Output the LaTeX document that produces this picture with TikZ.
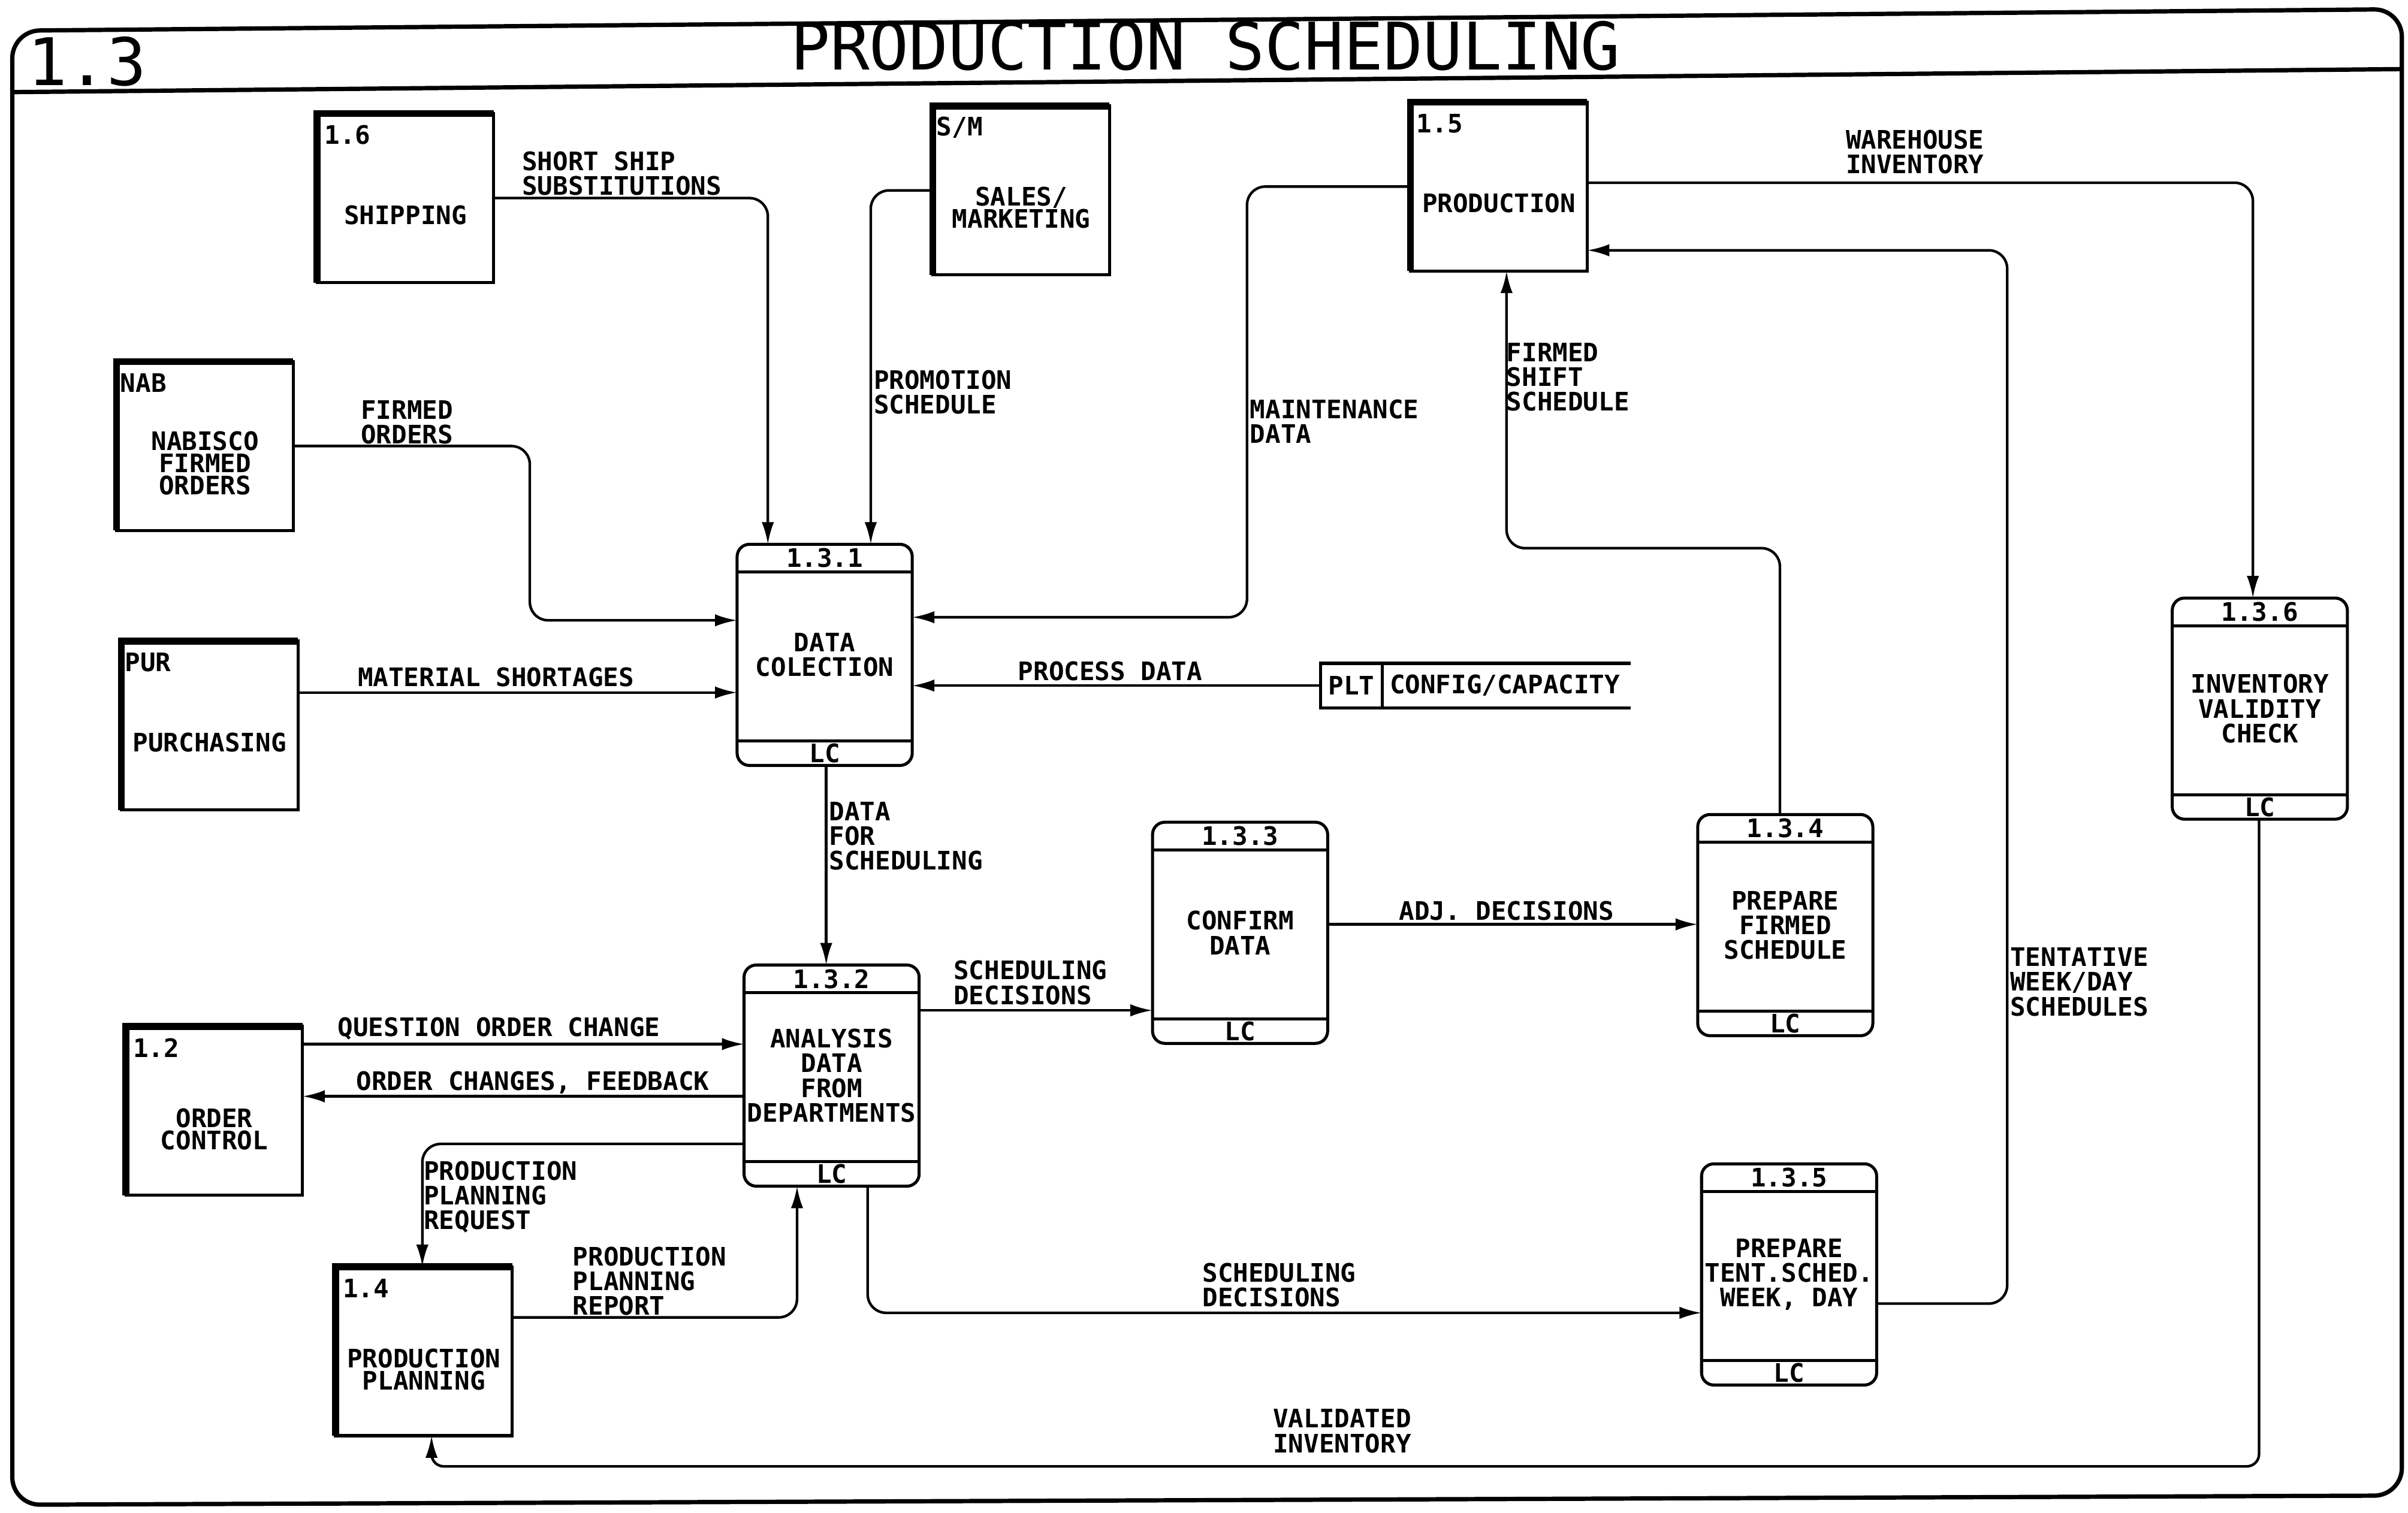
\documentclass[tikz,border=0pt]{standalone}
\usepackage{fontspec}
\setmainfont{DejaVu Sans Mono}
\usetikzlibrary{arrows.meta,calc}
\newcommand{\lblfont}{\fontsize{11.8}{11.4}\selectfont\bfseries}
\newcommand{\entfont}{\fontsize{11.8}{10.3}\selectfont\bfseries}
\newcommand{\ttlfont}{\fontsize{30.4}{36}\selectfont}
\begin{document}
\begin{tikzpicture}[x=0.025cm,y=-0.025cm,
  every node/.style={inner sep=0pt, outer sep=0pt},
  lbl/.style={font=\lblfont, align=left, anchor=west},
  lblc/.style={font=\lblfont, align=center},
  ent/.style={draw, line width=1.4pt, minimum width=2.875cm, minimum height=2.75cm},
  enttxt/.style={font=\entfont, align=center},
  entid/.style={font=\lblfont, anchor=west},
  thickedge/.style={line width=3.2pt},
  proc/.style={draw, line width=1.4pt, rounded corners=0.2cm, minimum width=2.85cm, minimum height=3.6cm,
     font=\lblfont, align=center,
     path picture={
     \draw[line width=1.4pt] ([yshift=-0.45cm]path picture bounding box.north west) -- ([yshift=-0.45cm]path picture bounding box.north east);
     \draw[line width=1.4pt] ([yshift=0.4cm]path picture bounding box.south west) -- ([yshift=0.4cm]path picture bounding box.south east);}},
  flow/.style={line width=1.2pt, rounded corners=0.3cm, -{Latex[length=3.6mm,width=2mm]}},
]
\fill[white] (0,0) rectangle (1568,985);
\useasboundingbox (0,0) rectangle (1568,985);

% frame
\draw[line width=2pt, rounded corners=0.45cm] (8,980) -- (8,20) -- (1564,6) -- (1564,974) -- cycle;
\draw[line width=2pt] (8,60) -- (1564,45);
\node[font=\ttlfont] (title) at (785,30) {PRODUCTION SCHEDULING};
\node[font=\ttlfont, anchor=west] (num) at (18,40) {1.3};

% external entities
\node[ent] (ship) at (264,129) {};
\draw[thickedge] (ship.south west) -- (ship.north west) -- (ship.north east);
\node[entid] (shipid) at ([xshift=0.12cm,yshift=-0.35cm]ship.north west) {1.6};
\node[enttxt] (shipt) at ([yshift=-0.28cm]ship.center) {SHIPPING};

\node[ent] (sm) at (665,124) {};
\draw[thickedge] (sm.south west) -- (sm.north west) -- (sm.north east);
\node[entid] (smid) at ([xshift=0.06cm,yshift=-0.35cm]sm.north west) {S/M};
\node[enttxt] (smt) at ([yshift=-0.28cm]sm.center) {SALES/\\MARKETING};

\node[ent] (prod) at (976,121.5) {};
\draw[thickedge] (prod.south west) -- (prod.north west) -- (prod.north east);
\node[entid] (prodid) at ([xshift=0.1cm,yshift=-0.35cm]prod.north west) {1.5};
\node[enttxt] (prodt) at ([yshift=-0.27cm]prod.center) {PRODUCTION};

\node[ent] (nab) at (133.5,290.5) {};
\draw[thickedge] (nab.south west) -- (nab.north west) -- (nab.north east);
\node[entid] (nabid) at ([xshift=0.06cm,yshift=-0.35cm]nab.north west) {NAB};
\node[enttxt] (nabt) at ([yshift=-0.28cm]nab.center) {NABISCO\\FIRMED\\ORDERS};

\node[ent] (pur) at (136.5,472.5) {};
\draw[thickedge] (pur.south west) -- (pur.north west) -- (pur.north east);
\node[entid] (purid) at ([xshift=0.06cm,yshift=-0.35cm]pur.north west) {PUR};
\node[enttxt] (purt) at ([yshift=-0.28cm]pur.center) {PURCHASING};

\node[ent] (oc) at (139.5,723.5) {};
\draw[thickedge] (oc.south west) -- (oc.north west) -- (oc.north east);
\node[entid] (ocid) at ([xshift=0.12cm,yshift=-0.35cm]oc.north west) {1.2};
\node[enttxt] (oct) at ([yshift=-0.3cm]oc.center) {ORDER\\CONTROL};

\node[ent] (pp) at (276,880) {};
\draw[thickedge] (pp.south west) -- (pp.north west) -- (pp.north east);
\node[entid] (ppid) at ([xshift=0.12cm,yshift=-0.35cm]pp.north west) {1.4};
\node[enttxt] (ppt) at ([yshift=-0.3cm]pp.center) {PRODUCTION\\PLANNING};

% processes
\node[proc] (p131) at (537,426.5) {DATA\\COLECTION};
\node[lblc] (p131id) at ([yshift=-0.225cm]p131.north) {1.3.1};
\node[lblc] (p131lc) at ([yshift=0.2cm]p131.south) {LC};

\node[proc] (p132) at (541.5,700.5) {ANALYSIS\\DATA\\FROM\\DEPARTMENTS};
\node[lblc] (p132id) at ([yshift=-0.225cm]p132.north) {1.3.2};
\node[lblc] (p132lc) at ([yshift=0.2cm]p132.south) {LC};

\node[proc] (p133) at (807.5,607.5) {CONFIRM\\DATA};
\node[lblc] (p133id) at ([yshift=-0.225cm]p133.north) {1.3.3};
\node[lblc] (p133lc) at ([yshift=0.2cm]p133.south) {LC};

\node[proc] (p134) at (1162.5,602.5) {PREPARE\\FIRMED\\SCHEDULE};
\node[lblc] (p134id) at ([yshift=-0.225cm]p134.north) {1.3.4};
\node[lblc] (p134lc) at ([yshift=0.2cm]p134.south) {LC};

\node[proc] (p135) at (1165,830) {PREPARE\\TENT.SCHED.\\WEEK, DAY};
\node[lblc] (p135id) at ([yshift=-0.225cm]p135.north) {1.3.5};
\node[lblc] (p135lc) at ([yshift=0.2cm]p135.south) {LC};

\node[proc] (p136) at (1471.5,461.5) {INVENTORY\\VALIDITY\\CHECK};
\node[lblc] (p136id) at ([yshift=-0.225cm]p136.north) {1.3.6};
\node[lblc] (p136lc) at ([yshift=0.2cm]p136.south) {LC};

% data store
\node[draw, line width=1.4pt, minimum width=1cm, minimum height=0.725cm, font=\lblfont] (plt) at (880,446.5) {PLT};
\node[lbl] (cfg) at (905,446.5) {CONFIG/CAPACITY};
\coordinate (send) at (1062,0);
\draw[line width=1.4pt] (plt.north east) -- (plt.north -| send);
\draw[line width=1.4pt] (plt.south east) -- (plt.south -| send);

% connectors
\coordinate (k1) at (500,129);
\draw[flow] (ship.east) -- (k1) -- (p131.north -| k1);
\coordinate (k2) at (567,124);
\draw[flow] (sm.west) -- (k2) -- (p131.north -| k2);
\coordinate (k3a) at (345,290.5); \coordinate (k3b) at (345,404);
\draw[flow] (nab.east) -- (k3a) -- (k3b) -- (p131.west |- k3b);
\coordinate (k4) at (194,451);
\draw[flow] (pur.east |- k4) -- (p131.west |- k4);
\coordinate (k5a) at (812,121.5); \coordinate (k5b) at (812,402);
\draw[flow] (prod.west) -- (k5a) -- (k5b) -- (p131.east |- k5b);
\draw[flow] (plt.west) -- (p131.east |- plt.west);
\coordinate (k7) at (538,0);
\draw[flow] (p131.south -| k7) -- (p132.north -| k7);
\coordinate (k8) at (0,658);
\draw[flow] (p132.east |- k8) -- (p133.west |- k8);
\coordinate (k9) at (0,602);
\draw[flow] (p133.east |- k9) -- (p134.west |- k9);
\coordinate (k10a) at (1159,357); \coordinate (k10b) at (981,357);
\draw[flow] (p134.north -| k10a) -- (k10a) -- (k10b) -- (prod.south -| k10b);
\coordinate (k11a) at (1307,849); \coordinate (k11b) at (1307,163);
\draw[flow] (p135.east |- k11a) -- (k11a) -- (k11b) -- (prod.east |- k11b);
\coordinate (k12) at (1467,119);
\draw[flow] (prod.east |- k12) -- (k12) -- (p136.north -| k12);
\coordinate (k13a) at (1471,955); \coordinate (k13b) at (281,955);
\draw[flow, rounded corners=0.2cm] (p136.south -| k13a) -- (k13a) -- (k13b) -- (pp.south -| k13b);
\coordinate (k14) at (0,680);
\draw[flow] (oc.east |- k14) -- (p132.west |- k14);
\coordinate (k15) at (0,714);
\draw[flow] (p132.west |- k15) -- (oc.east |- k15);
\coordinate (k16) at (275,745);
\draw[flow] (p132.west |- k16) -- (k16) -- (pp.north -| k16);
\coordinate (k17) at (519,858);
\draw[flow] (pp.east |- k17) -- (k17) -- (p132.south -| k17);
\coordinate (k18) at (565,855);
\draw[flow] (p132.south -| k18) -- (k18) -- (p135.west |- k18);

% labels
\node[lbl] (l1) at (340,113) {SHORT SHIP\\SUBSTITUTIONS};
\node[lblc] (l3) at (265,275) {FIRMED\\ORDERS};
\node[lbl] (l2) at (569,255.5) {PROMOTION\\SCHEDULE};
\node[lbl] (l5) at (814,274.5) {MAINTENANCE\\DATA};
\node[lbl] (l10) at (981,245.5) {FIRMED\\SHIFT\\SCHEDULE};
\node[lbl] (l12) at (1202,99) {WAREHOUSE\\INVENTORY};
\node[lbl] (l4) at (233,441) {MATERIAL SHORTAGES};
\node[lbl] (l6) at (663,437) {PROCESS DATA};
\node[lbl] (l7) at (540,544.5) {DATA\\FOR\\SCHEDULING};
\node[lbl] (l8) at (621,640) {SCHEDULING\\DECISIONS};
\node[lbl] (l9) at (911,593) {ADJ. DECISIONS};
\node[lbl] (l11) at (1309,639.5) {TENTATIVE\\WEEK/DAY\\SCHEDULES};
\node[lbl] (l14) at (220,670) {QUESTION ORDER CHANGE};
\node[lbl] (l15) at (232,705) {ORDER CHANGES, FEEDBACK};
\node[lbl] (l16) at (276,779.5) {PRODUCTION\\PLANNING\\REQUEST};
\node[lbl] (l17) at (373,834.5) {PRODUCTION\\PLANNING\\REPORT};
\node[lbl] (l18) at (783,837) {SCHEDULING\\DECISIONS};
\node[lbl] (l13) at (829,932) {VALIDATED\\INVENTORY};
\end{tikzpicture}
\end{document}
